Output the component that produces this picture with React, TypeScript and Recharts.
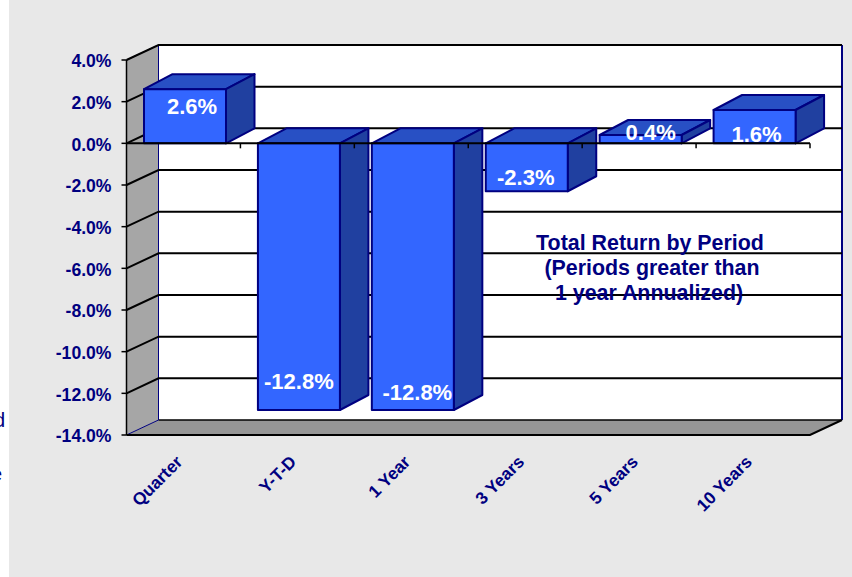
import { BarChart, Bar, XAxis, YAxis, ReferenceArea, ReferenceLine, LabelList } from 'recharts';

const periods = ['Quarter', 'Y-T-D', '1 Year', '3 Years', '5 Years', '10 Years'];
const returns = [2.6, -12.8, -12.8, -2.3, 0.4, 1.6];
const yTicks = [4, 2, 0, -2, -4, -6, -8, -10, -12, -14];
const noteLines = ['Total Return by Period', '(Periods greater than', '1 year Annualized)'];

const chartData = periods.map((period, i) => ({ period, value: returns[i] }));

const NAVY = '#000080';
const DX = 28.5;
const DY = -15;
const WALL_DX = 32;
const WALL_DY = -15;
const BAR_SHIFT = 1.5;

// nudges so the value labels sit where the original chart has them
const labelNudge = [
  [7, 25], [0, -21], [4.5, -10], [-1, -6], [10, 5], [2, 32],
];

function Walls({ x, y, width, height }: any) {
  const b = y + height;
  const r = x + width;
  return (
    <g>
      <rect x={x + WALL_DX} y={y + WALL_DY} width={width} height={height} fill="#ffffff" />
      <polygon points={`${x},${y} ${x + WALL_DX},${y + WALL_DY} ${x + WALL_DX},${b + WALL_DY} ${x},${b}`} fill="#a6a6a6" />
      <polygon points={`${x},${b} ${x + WALL_DX},${b + WALL_DY} ${r + WALL_DX},${b + WALL_DY} ${r},${b}`} fill="#969696" />
      <path d={`M${x + WALL_DX},${b + WALL_DY} L${r + WALL_DX},${b + WALL_DY}`} stroke="#000" strokeWidth={1.5} />
      <path d={`M${x},${y} L${x + WALL_DX},${y + WALL_DY} L${x + WALL_DX},${b + WALL_DY} L${x},${b}`} fill="none" stroke={NAVY} strokeWidth={1} />
      <path d={`M${r + WALL_DX},${y + WALL_DY} L${r + WALL_DX},${b + WALL_DY}`} stroke={NAVY} strokeWidth={2} />
      <path d={`M${x},${b} L${r},${b} L${r + WALL_DX},${b + WALL_DY}`} fill="none" stroke="#000" strokeWidth={2} />
      <path d={`M${x},${y} L${x},${b}`} stroke="#000" strokeWidth={1.5} />
    </g>
  );
}

function GridLine({ x1, x2, y1 }: any) {
  return (
    <path
      d={`M${x1},${y1} L${x1 + WALL_DX},${y1 + WALL_DY} L${x2 + WALL_DX},${y1 + WALL_DY}`}
      fill="none"
      stroke="#000"
      strokeWidth={2}
    />
  );
}

function ZeroLine({ x1, x2, y1 }: any) {
  const step = (x2 - x1) / periods.length;
  return (
    <g>
      <path d={`M${x1},${y1} L${x2},${y1}`} stroke="#000" strokeWidth={2} />
      {periods.map((p, i) => (
        <path key={p} d={`M${x1 + step * (i + 1)},${y1} v5`} stroke="#000" strokeWidth={1.5} />
      ))}
    </g>
  );
}

function Bar3D({ x, y, width, height }: any) {
  const left = x + BAR_SHIFT;
  const top = Math.min(y, y + height);
  const h = Math.abs(height);
  return (
    <g stroke={NAVY} strokeWidth={2} strokeLinejoin="round">
      <polygon
        points={`${left},${top} ${left + DX},${top + DY} ${left + width + DX},${top + DY} ${left + width},${top}`}
        fill="#2850c4"
      />
      <polygon
        points={`${left + width},${top} ${left + width + DX},${top + DY} ${left + width + DX},${top + h + DY} ${left + width},${top + h}`}
        fill="#2040a0"
      />
      <rect x={left} y={top} width={width} height={h} fill="#3366ff" />
    </g>
  );
}

function ValueLabel({ x, y, width, index, value }: any) {
  const [nx, ny] = labelNudge[index];
  return (
    <text
      x={x + BAR_SHIFT + width / 2 + nx}
      y={y + ny}
      textAnchor="middle"
      fill="#ffffff"
      fontFamily="Liberation Sans"
      fontWeight="bold"
      fontSize={22}
    >
      {`${Number(value).toFixed(1)}%`}
    </text>
  );
}

function PeriodTick({ x, y, payload }: any) {
  return (
    <text
      transform={`translate(${x},${y + 20}) rotate(-45)`}
      textAnchor="end"
      fill={NAVY}
      fontFamily="Liberation Sans"
      fontWeight="bold"
      fontSize={17.3}
    >
      {payload.value}
    </text>
  );
}

const noteBoxes = [
  { left: 650, top: 231 },
  { left: 652, top: 256 },
  { left: 649, top: 281 },
];

export default function App() {
  return (
    <div style={{ position: 'absolute', left: 0, top: 0, width: 852, height: 577, background: '#ffffff', overflow: 'hidden' }}>
      <div style={{ position: 'absolute', left: 9, top: 0, width: 843, height: 577, background: '#e8e8e8' }} />
      <div style={{ position: 'absolute', right: 847, top: 409, color: NAVY, fontFamily: 'Liberation Sans', fontSize: 20 }}>d</div>
      <div style={{ position: 'absolute', right: 850, top: 463, color: NAVY, fontFamily: 'Liberation Sans', fontSize: 20 }}>e</div>
      <BarChart
        width={852}
        height={577}
        data={chartData}
        margin={{ top: 60, right: 42, bottom: 0, left: 0 }}
        barSize={82}
        style={{ position: 'absolute', left: 0, top: 0 }}
      >
        <XAxis dataKey="period" interval={0} axisLine={false} tickLine={false} tick={<PeriodTick />} height={142} />
        <YAxis
          domain={[-14, 4]}
          ticks={yTicks}
          interval={0}
          width={126.5}
          axisLine={false}
          tickLine={{ stroke: '#000', strokeWidth: 1.5 }}
          tickSize={5}
          tickMargin={10}
          tickFormatter={(v: number) => `${v.toFixed(1)}%`}
          tick={{ fill: NAVY, fontFamily: 'Liberation Sans', fontWeight: 'bold', fontSize: 17.6, dy: 1 }}
        />
        <ReferenceArea y1={-14} y2={4} fillOpacity={1} shape={<Walls />} zIndex={100} />
        {yTicks.filter((t) => t !== -14).map((t) => (
          <ReferenceLine key={t} y={t} shape={<GridLine />} zIndex={150} />
        ))}
        <Bar dataKey="value" shape={<Bar3D />} isAnimationActive={false}>
          <LabelList dataKey="value" content={<ValueLabel />} />
        </Bar>
        <ReferenceLine y={0} shape={<ZeroLine />} />
      </BarChart>
      {noteLines.map((line, i) => (
        <div
          key={line}
          style={{
            position: 'absolute',
            left: noteBoxes[i].left,
            top: noteBoxes[i].top,
            transform: 'translateX(-50%)',
            whiteSpace: 'nowrap',
            color: NAVY,
            fontFamily: 'Liberation Sans',
            fontWeight: 'bold',
            fontSize: 21.4,
            lineHeight: '24px',
          }}
        >
          {line}
        </div>
      ))}
    </div>
  );
}
